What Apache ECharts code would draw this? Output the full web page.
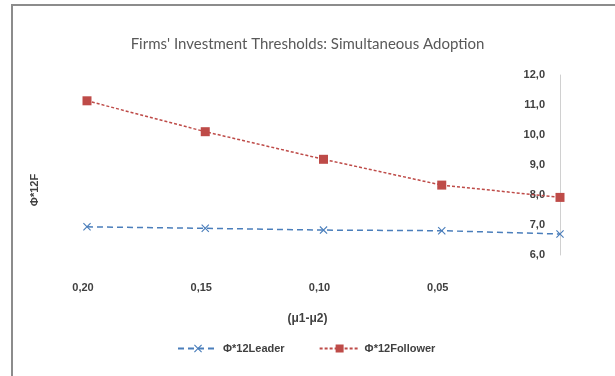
<!DOCTYPE html>
<html>
<head>
<meta charset="utf-8">
<script src="https://cdn.jsdelivr.net/npm/echarts@6/dist/echarts.min.js"></script>
<style>
  html, body { margin: 0; padding: 0; background: #fff; }
  #chart { width: 615px; height: 376px; }
</style>
</head>
<body>
<div id="chart"></div>
<script>
// Difference of drift rates (μ1-μ2), last point unlabeled
const categories = ['0,20', '0,15', '0,10', '0,05', ''];
const leaderValues = [6.94, 6.89, 6.83, 6.81, 6.70];
const followerValues = [11.14, 10.11, 9.19, 8.33, 7.92];
const yTicks = { min: 6, max: 12, interval: 1 };

const crossPath = 'path://M0,1L1,0L5,4L9,0L10,1L6,5L10,9L9,10L5,6L1,10L0,9L4,5Z';
const labelFont = 'Liberation Sans';

const chart = echarts.init(document.getElementById('chart'));
chart.setOption({
  animation: false,
  backgroundColor: '#ffffff',
  title: {
    text: "Firms' Investment Thresholds: Simultaneous Adoption",
    left: 'center',
    top: 32,
    textStyle: { fontFamily: 'Lato', fontSize: 15, fontWeight: 'normal', color: '#595959' }
  },
  grid: { left: 87, right: 55, top: 75, bottom: 121 },
  legend: {
    left: 172,
    top: 338,
    itemWidth: 40,
    itemHeight: 10,
    itemGap: 34,
    textStyle: { fontFamily: labelFont, fontSize: 11, fontWeight: 'bold', color: '#404040' },
    data: ['Φ*12Leader', 'Φ*12Follower']
  },
  xAxis: {
    type: 'category',
    data: categories,
    boundaryGap: false,
    name: '(μ1-μ2)',
    nameLocation: 'middle',
    nameGap: 58,
    nameTextStyle: {
      fontFamily: labelFont, fontSize: 12, fontWeight: 'bold', color: '#404040',
      padding: [0, 32, 0, 0]
    },
    axisLine: { show: false },
    axisTick: { show: false },
    axisLabel: {
      margin: 27, fontFamily: labelFont, fontSize: 11, fontWeight: 'bold', color: '#404040',
      padding: [0, 8, 0, 0]
    }
  },
  yAxis: {
    type: 'value',
    position: 'right',
    min: yTicks.min,
    max: yTicks.max,
    interval: yTicks.interval,
    axisLine: { show: true, lineStyle: { color: '#d0d0d0', width: 1 } },
    axisTick: { show: false },
    splitLine: { show: false },
    axisLabel: {
      inside: true,
      margin: 15,
      fontFamily: labelFont,
      fontSize: 11,
      fontWeight: 'bold',
      color: '#404040',
      formatter: v => v.toFixed(1).replace('.', ',')
    }
  },
  graphic: [
    {
      type: 'rect',
      shape: { x: 12, y: 5, width: 620, height: 390 },
      style: { fill: 'none', stroke: '#8c8c8c', lineWidth: 2 },
      silent: true
    },
    {
      type: 'text',
      x: 35,
      y: 190,
      rotation: Math.PI / 2,
      style: {
        text: 'Φ*12F',
        fontFamily: labelFont,
        fontSize: 11,
        fontWeight: 'bold',
        fill: '#404040',
        align: 'center',
        verticalAlign: 'middle'
      }
    }
  ],
  series: [
    {
      name: 'Φ*12Leader',
      type: 'line',
      data: leaderValues,
      symbol: crossPath,
      symbolSize: 8,
      itemStyle: { color: '#4a7ebb' },
      lineStyle: { color: '#4a7ebb', width: 1.5, type: [6, 4] }
    },
    {
      name: 'Φ*12Follower',
      type: 'line',
      data: followerValues,
      symbol: 'rect',
      symbolSize: 9,
      itemStyle: { color: '#be4b48' },
      lineStyle: { color: '#be4b48', width: 1.5, type: [3, 2] }
    }
  ]
});
</script>
</body>
</html>
